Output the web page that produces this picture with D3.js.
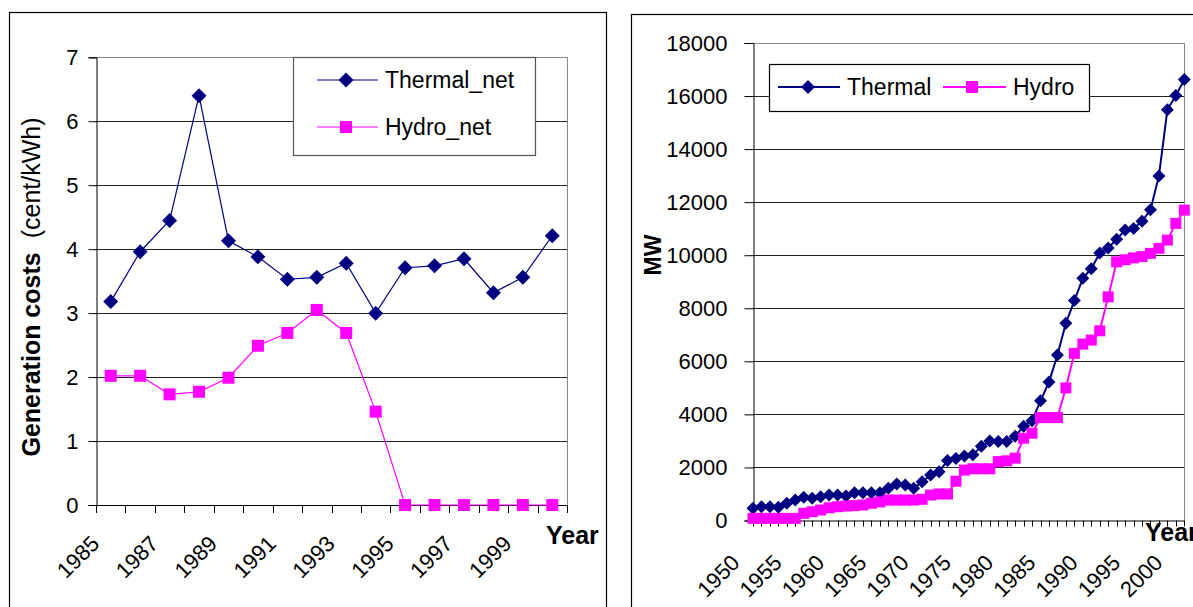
<!DOCTYPE html>
<html><head><meta charset="utf-8">
<script src="https://cdn.jsdelivr.net/npm/d3@7"></script>
<style>
body{margin:0;background:#fff}
svg{display:block}
text{font-family:"Liberation Sans",Arial,sans-serif;fill:#000}
</style>
</head><body>
<svg id="chart" width="1193" height="607"></svg>
<script>
// ---- Generation cost panel ----
const costYears = [1985,1986,1987,1988,1989,1990,1991,1992,1993,1994,1995,1996,1997,1998,1999,2000];
const thermalNet = [3.18,3.96,4.45,6.40,4.13,3.88,3.53,3.56,3.78,3.00,3.71,3.74,3.85,3.32,3.56,4.21];
const hydroNet   = [2.02,2.02,1.73,1.77,1.99,2.49,2.69,3.05,2.69,1.46,0,0,0,0,0,0];
const costTicks = [0,1,2,3,4,5,6,7];
const costYearLabels = [1985,1987,1989,1991,1993,1995,1997,1999];

// ---- Installed capacity panel ----
const capYears = [1950,1951,1952,1953,1954,1955,1956,1957,1958,1959,
  1960,1961,1962,1963,1964,1965,1966,1967,1968,1969,
  1970,1971,1972,1973,1974,1975,1976,1977,1978,1979,
  1980,1981,1982,1983,1984,1985,1986,1987,1988,1989,
  1990,1991,1992,1993,1994,1995,1996,1997,1998,1999,2000,2001];
const thermalMW = [460,520,520,500,650,770,875,835,900,960,
  960,925,1050,1050,1050,1050,1215,1375,1340,1215,
  1460,1715,1840,2260,2340,2430,2480,2800,3000,2980,
  2980,3180,3550,3760,4510,5220,6240,7440,8290,9130,
  9490,10080,10270,10600,10950,11010,11280,11710,12990,15480,16020,16620];
const hydroMW = [80,80,80,80,80,80,270,330,395,480,
  520,545,560,585,650,700,770,770,770,770,
  800,960,1000,1000,1480,1900,1950,1950,1950,2220,
  2250,2350,3100,3290,3880,3880,3880,5000,6300,6650,
  6800,7150,8430,9750,9830,9900,9950,10070,10260,10570,11200,11700];
const capTicks = [0,2000,4000,6000,8000,10000,12000,14000,16000,18000];
const capYearLabels = [1950,1955,1960,1965,1970,1975,1980,1985,1990,1995,2000];

const NAVY = "#000080", MAGENTA = "#FF00FF";
const svg = d3.select("#chart");

function diamond(cx, cy, r) {
  return `M${cx},${cy - r}L${cx + r},${cy}L${cx},${cy + r}L${cx - r},${cy}Z`;
}
function square(cx, cy, s) {
  return `M${cx - s/2},${cy - s/2}h${s}v${s}h${-s}Z`;
}

// panel frames
svg.append("rect").attr("x", 9.5).attr("y", 12.5).attr("width", 597).attr("height", 620)
  .attr("fill", "none").attr("stroke", "#000").attr("stroke-width", 1.2);
svg.append("rect").attr("x", 631.5).attr("y", 14.5).attr("width", 600).attr("height", 620)
  .attr("fill", "none").attr("stroke", "#000").attr("stroke-width", 1.2);

// ================= left panel =================
{
  const g = svg.append("g");
  const x = d3.scaleBand().domain(costYears).range([96, 567]).padding(0);
  const y = d3.scaleLinear().domain([0, 7]).range([505, 57.3]);
  const cx = d => x(d) + x.bandwidth() / 2;

  // gridlines
  g.selectAll("line.grid").data(costTicks.slice(1)).join("line")
    .attr("x1", 96).attr("x2", 567)
    .attr("y1", d => Math.round(y(d)) + 0.5).attr("y2", d => Math.round(y(d)) + 0.5)
    .attr("stroke", d => d === 7 ? "#888" : "#222").attr("stroke-width", 1);
  // right border
  g.append("line").attr("x1", 567.5).attr("x2", 567.5).attr("y1", y(7)).attr("y2", y(0))
    .attr("stroke", "#888");

  // y axis
  const yAxis = d3.axisLeft(y).tickValues(costTicks).tickSize(8).tickPadding(10).tickFormat(d3.format("d"));
  const ya = g.append("g").attr("transform", "translate(96.5,0)").call(yAxis);
  ya.select(".domain").attr("stroke", "#000");
  ya.selectAll(".tick line").attr("stroke", "#000");
  ya.selectAll(".tick text").attr("font-size", 22).attr("font-family", "Liberation Sans, Arial, sans-serif").attr("fill", "#000");

  // x axis: ticks at category boundaries
  const bounds = costYears.map(d => x(d)).concat([x(costYears[costYears.length - 1]) + x.bandwidth()]);
  g.append("line").attr("x1", 96).attr("x2", 567).attr("y1", y(0) + 0.5).attr("y2", y(0) + 0.5).attr("stroke", "#000");
  g.selectAll("line.xt").data(bounds).join("line")
    .attr("x1", d => Math.round(d) + 0.5).attr("x2", d => Math.round(d) + 0.5)
    .attr("y1", y(0)).attr("y2", y(0) + 8).attr("stroke", "#000");
  g.selectAll("text.xl").data(costYearLabels).join("text")
    .attr("transform", d => `translate(${cx(d) - 10},${y(0) + 40}) rotate(-45)`)
    .attr("text-anchor", "end").attr("font-size", 22).text(d => d);

  // axis titles
  const t = g.append("text").attr("transform", "translate(40,287) rotate(-90)")
    .attr("text-anchor", "middle").attr("font-size", 25);
  t.append("tspan").attr("font-weight", "bold").text("Generation costs");
  t.append("tspan").attr("dx", 14).text("(cent/kWh)");
  g.append("text").attr("x", 546).attr("y", 544).attr("font-size", 25).attr("font-weight", "bold").text("Year");

  // series
  const line = d3.line().x((d, i) => cx(costYears[i])).y(d => y(d));
  g.append("path").attr("d", line(thermalNet)).attr("fill", "none").attr("stroke", NAVY).attr("stroke-width", 1.2);
  g.append("path").attr("d", line(hydroNet)).attr("fill", "none").attr("stroke", MAGENTA).attr("stroke-width", 1.2);
  g.selectAll("path.tm").data(thermalNet).join("path")
    .attr("d", (d, i) => diamond(cx(costYears[i]), y(d), 7.5)).attr("fill", NAVY);
  g.selectAll("path.hm").data(hydroNet).join("path")
    .attr("d", (d, i) => square(cx(costYears[i]), y(d), 12)).attr("fill", MAGENTA);

  // legend
  const lg = g.append("g");
  lg.append("rect").attr("x", 293.5).attr("y", 57.5).attr("width", 242).attr("height", 98)
    .attr("fill", "#fff").attr("stroke", "#555").attr("stroke-width", 1.2);
  lg.append("line").attr("x1", 317).attr("x2", 378).attr("y1", 80).attr("y2", 80).attr("stroke", NAVY).attr("stroke-width", 1.2);
  lg.append("path").attr("d", diamond(346, 80, 7.5)).attr("fill", NAVY);
  lg.append("text").attr("x", 385).attr("y", 80).attr("dy", "0.35em").attr("font-size", 23).text("Thermal_net");
  lg.append("line").attr("x1", 317).attr("x2", 378).attr("y1", 127).attr("y2", 127).attr("stroke", MAGENTA).attr("stroke-width", 1.2);
  lg.append("path").attr("d", square(346, 127, 12)).attr("fill", MAGENTA);
  lg.append("text").attr("x", 385).attr("y", 127).attr("dy", "0.35em").attr("font-size", 23).text("Hydro_net");
}

// ================= right panel =================
{
  const g = svg.append("g");
  const x = d3.scalePoint().domain(capYears).range([753, 1184.3]).padding(0);
  const y = d3.scaleLinear().domain([0, 18000]).range([520.5, 43]);

  g.selectAll("line.grid").data(capTicks.slice(1)).join("line")
    .attr("x1", 753).attr("x2", 1184.3)
    .attr("y1", d => Math.round(y(d)) + 0.5).attr("y2", d => Math.round(y(d)) + 0.5)
    .attr("stroke", d => d === 18000 ? "#888" : "#222");
  g.append("line").attr("x1", 1184.5).attr("x2", 1184.5).attr("y1", y(18000)).attr("y2", y(0)).attr("stroke", "#888");

  const yAxis = d3.axisLeft(y).tickValues(capTicks).tickSize(9).tickPadding(17).tickFormat(d3.format("d"));
  const ya = g.append("g").attr("transform", "translate(753.5,0)").call(yAxis);
  ya.select(".domain").attr("stroke", "#000");
  ya.selectAll(".tick line").attr("stroke", "#000");
  ya.selectAll(".tick text").attr("font-size", 22).attr("font-family", "Liberation Sans, Arial, sans-serif").attr("fill", "#000");

  g.append("line").attr("x1", 753).attr("x2", 1184.3).attr("y1", y(0) + 0.5).attr("y2", y(0) + 0.5).attr("stroke", "#000");
  g.selectAll("line.xt").data(capYears).join("line")
    .attr("x1", d => Math.round(x(d)) + 0.5).attr("x2", d => Math.round(x(d)) + 0.5)
    .attr("y1", y(0)).attr("y2", y(0) + 6).attr("stroke", "#000");
  g.selectAll("text.xl").data(capYearLabels).join("text")
    .attr("transform", d => `translate(${x(d) - 12},${y(0) + 43.5}) rotate(-45)`)
    .attr("text-anchor", "end").attr("font-size", 22).text(d => d);

  g.append("text").attr("transform", "translate(661,255) rotate(-90)").attr("text-anchor", "middle")
    .attr("font-size", 23).attr("font-weight", "bold").text("MW");
  g.append("text").attr("x", 1145).attr("y", 541).attr("font-size", 25).attr("font-weight", "bold").text("Year");

  const line = d3.line().x((d, i) => x(capYears[i])).y(d => y(d));
  g.append("path").attr("d", line(thermalMW)).attr("fill", "none").attr("stroke", NAVY).attr("stroke-width", 2);
  g.append("path").attr("d", line(hydroMW)).attr("fill", "none").attr("stroke", MAGENTA).attr("stroke-width", 2);
  g.selectAll("path.tm").data(thermalMW).join("path")
    .attr("d", (d, i) => diamond(x(capYears[i]), y(d), 6.5)).attr("fill", NAVY);
  g.selectAll("path.hm").data(hydroMW).join("path")
    .attr("d", (d, i) => square(x(capYears[i]), y(d), 11)).attr("fill", MAGENTA);

  const lg = g.append("g");
  lg.append("rect").attr("x", 769.5).attr("y", 64.5).attr("width", 320).attr("height", 47)
    .attr("fill", "#fff").attr("stroke", "#000").attr("stroke-width", 1.2);
  lg.append("line").attr("x1", 778).attr("x2", 840).attr("y1", 87).attr("y2", 87).attr("stroke", NAVY).attr("stroke-width", 2);
  lg.append("path").attr("d", diamond(808, 87, 7)).attr("fill", NAVY);
  lg.append("text").attr("x", 847).attr("y", 87).attr("dy", "0.35em").attr("font-size", 23).text("Thermal");
  lg.append("line").attr("x1", 943).attr("x2", 1006).attr("y1", 87).attr("y2", 87).attr("stroke", MAGENTA).attr("stroke-width", 2);
  lg.append("path").attr("d", square(972, 87, 12)).attr("fill", MAGENTA);
  lg.append("text").attr("x", 1013).attr("y", 87).attr("dy", "0.35em").attr("font-size", 23).text("Hydro");
}
</script>
</body></html>
